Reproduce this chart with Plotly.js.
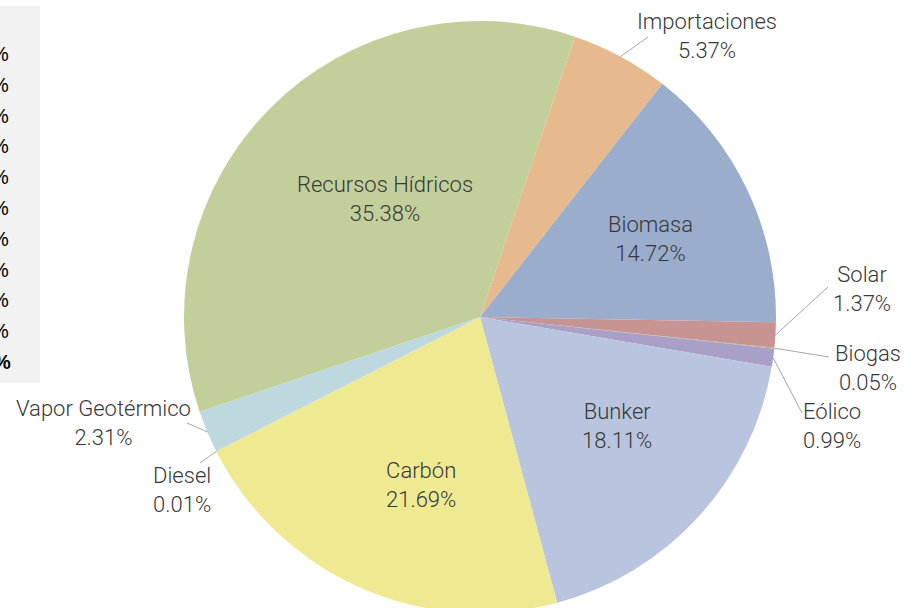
<!DOCTYPE html>
<html>
<head>
<meta charset="utf-8">
<script src="https://cdn.plot.ly/plotly-3.0.1.min.js"></script>
<style>
html,body{margin:0;padding:0;overflow:hidden;background:#fff;}
#chart{width:917px;height:613px;}
</style>
</head>
<body>
<div id="chart"></div>
<script>
// ---- data (clockwise from the top) ----
const categories = ['Importaciones','Biomasa','Solar','Biogas','Eólico','Bunker','Carbón','Diesel','Vapor Geotérmico','Recursos Hídricos'];
const shares = [5.37, 14.72, 1.37, 0.05, 0.99, 18.11, 21.69, 0.01, 2.31, 35.38];
const sliceColors = ['#E6BA8E','#9AADCD','#C79493','#A5B47A','#A99FC7','#B9C5DE','#EFEA92','#E8D27A','#BED8DF','#C3CF9A'];
// cropped side table: only the trailing % signs are visible in the picture
const tableMarks = ['%','%','%','%','%','%','%','%','%','%','%'];

// ---- layout config (pixels) ----
const W = 917, H = 613;
const CX = 480, CY = 317, R = 296;
const ROTATION = 18.7;
const labelLayout = {
  'Importaciones':     {pos:[707,36],  line:[648,37]},
  'Biomasa':           {pos:[650,239]},
  'Solar':             {pos:[862,289], line:[828,287]},
  'Biogas':            {pos:[868,368], line:[829,357]},
  'Eólico':            {pos:[832,426], line:[802,413]},
  'Bunker':            {pos:[617,426]},
  'Carbón':            {pos:[421,485]},
  'Diesel':            {pos:[182,490], line:[200,463]},
  'Vapor Geotérmico':  {pos:[103,423], line:[187,423]},
  'Recursos Hídricos': {pos:[385,199]}
};
const FONT = 'Roboto, "DejaVu Sans Condensed", sans-serif';
const TXT = '#383838';

const px = x => x / W;
const py = y => 1 - y / H;

const annotations = [];
const shapes = [];

// slice mid-angles from the data
const total = shares.reduce((a,b)=>a+b,0);
let acc = 0;
categories.forEach((c,i) => {
  const mid = ROTATION + 360 * (acc + shares[i]/2) / total;
  acc += shares[i];
  const L = labelLayout[c];
  const pctText = shares[i].toFixed(2) + '%';
  annotations.push({xref:'paper', yref:'paper', x:px(L.pos[0]), y:py(L.pos[1]), text:c + '<br>' + pctText,
    showarrow:false, xanchor:'center', yanchor:'middle', align:'center',
    font:{family:FONT, size:22, color:TXT, weight:300}});
  if (L.line) {
    const a = mid * Math.PI / 180;
    const tx = CX + R * Math.sin(a), ty = CY - R * Math.cos(a);
    shapes.push({type:'line', xref:'paper', yref:'paper', x0:px(tx), y0:py(ty), x1:px(L.line[0]), y1:py(L.line[1]),
      line:{color:'#A6A6A6', width:1}});
  }
});

// cropped table panel on the left
shapes.push({type:'rect', xref:'paper', yref:'paper', x0:0, x1:px(40), y0:py(383), y1:py(6),
  fillcolor:'#F2F2F2', line:{width:0}, layer:'below'});
tableMarks.forEach((t,i) => {
  const last = i === tableMarks.length - 1;
  annotations.push({xref:'paper', yref:'paper', x:px(last ? 13 : 11), y:py(54 + 30.8*i), text: last ? '<b>'+t+'</b>' : t,
    showarrow:false, xanchor:'right', yanchor:'middle', font:{family:'"Liberation Sans", Arial, sans-serif', size:20, color:'#000'}});
});

const trace = {
  type:'pie',
  labels: categories,
  values: shares,
  sort:false,
  direction:'clockwise',
  rotation: ROTATION,
  marker:{colors:sliceColors, line:{width:0}},
  textinfo:'none',
  hoverinfo:'label+percent',
  showlegend:false,
  domain:{x:[(CX-R)/W, (CX+R)/W], y:[(H-CY-R)/H, (H-CY+R)/H]}
};

Plotly.newPlot('chart', [trace], {
  width:W, height:H,
  margin:{l:0,r:0,t:0,b:0},
  paper_bgcolor:'#fff',
  showlegend:false,
  annotations, shapes
}, {staticPlot:true});
</script>
</body>
</html>
